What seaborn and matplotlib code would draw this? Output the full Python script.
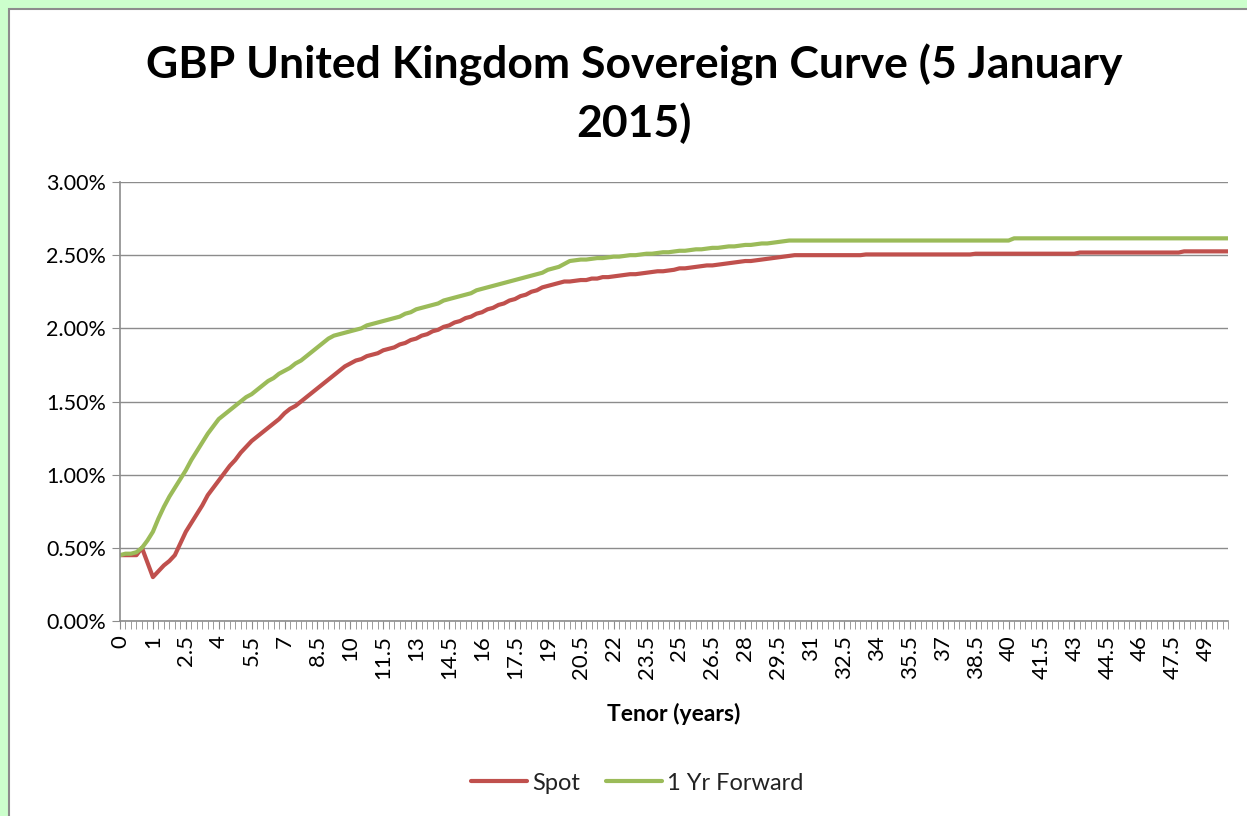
import matplotlib
matplotlib.use("Agg")
import matplotlib.pyplot as plt
import matplotlib.patches as patches
import numpy as np
import pandas as pd
import seaborn as sns

# categories: short end then quarterly steps up to 50 years
tenors = [0, 1/12, 1/6, 0.25, 0.5, 0.75] + list(np.arange(1, 50.001, 0.25))

tick_labels = ["0", "1", "2.5", "4", "5.5", "7", "8.5", "10", "11.5", "13", "14.5",
               "16", "17.5", "19", "20.5", "22", "23.5", "25", "26.5", "28", "29.5",
               "31", "32.5", "34", "35.5", "37", "38.5", "40", "41.5", "43", "44.5",
               "46", "47.5", "49"]

# spot curve (%)
spot = [
    0.45, 0.45, 0.45, 0.45, 0.50, 0.40,
    # 1 - 5.75
    0.30, 0.34, 0.38, 0.41, 0.45, 0.53, 0.61, 0.67, 0.73, 0.79, 0.86, 0.91,
    0.96, 1.01, 1.06, 1.10, 1.15, 1.19, 1.23, 1.26,
    # 6 - 10.75
    1.29, 1.32, 1.35, 1.38, 1.42, 1.45, 1.47, 1.50, 1.53, 1.56, 1.59, 1.62,
    1.65, 1.68, 1.71, 1.74, 1.76, 1.78, 1.79, 1.81,
    # 11 - 15.75
    1.82, 1.83, 1.85, 1.86, 1.87, 1.89, 1.90, 1.92, 1.93, 1.95, 1.96, 1.98,
    1.99, 2.01, 2.02, 2.04, 2.05, 2.07, 2.08, 2.10,
    # 16 - 20.75
    2.11, 2.13, 2.14, 2.16, 2.17, 2.19, 2.20, 2.22, 2.23, 2.25, 2.26, 2.28,
    2.29, 2.30, 2.31, 2.32, 2.32, 2.325, 2.33, 2.33,
    # 21 - 25.75
    2.34, 2.34, 2.35, 2.35, 2.355, 2.36, 2.365, 2.37, 2.37, 2.375, 2.38, 2.385,
    2.39, 2.39, 2.395, 2.40, 2.41, 2.41, 2.415, 2.42,
    # 26 - 30.75
    2.425, 2.43, 2.43, 2.435, 2.44, 2.445, 2.45, 2.455, 2.46, 2.46, 2.465, 2.47,
    2.475, 2.48, 2.485, 2.49, 2.495, 2.50, 2.50, 2.50,
    # 31 - 35.75
    2.50, 2.50, 2.50, 2.50, 2.50, 2.50, 2.50, 2.50, 2.50, 2.50, 2.505, 2.505,
    2.505, 2.505, 2.505, 2.505, 2.505, 2.505, 2.505, 2.505,
    # 36 - 40.75
    2.505, 2.505, 2.505, 2.505, 2.505, 2.505, 2.505, 2.505, 2.505, 2.505, 2.51, 2.51,
    2.51, 2.51, 2.51, 2.51, 2.51, 2.51, 2.51, 2.51,
    # 41 - 45.75
    2.51, 2.51, 2.51, 2.51, 2.51, 2.51, 2.51, 2.51, 2.51, 2.518, 2.518, 2.518,
    2.518, 2.518, 2.518, 2.518, 2.518, 2.518, 2.518, 2.518,
    # 46 - 50
    2.518, 2.518, 2.518, 2.518, 2.518, 2.518, 2.518, 2.518, 2.526, 2.526, 2.526, 2.526,
    2.526, 2.526, 2.526, 2.526, 2.526,
]

# 1 year forward curve (%)
forward = [
    0.45, 0.46, 0.46, 0.47, 0.50, 0.55,
    # 1 - 5.75
    0.61, 0.70, 0.78, 0.85, 0.91, 0.97, 1.03, 1.10, 1.16, 1.22, 1.28, 1.33,
    1.38, 1.41, 1.44, 1.47, 1.50, 1.53, 1.55, 1.58,
    # 6 - 10.75
    1.61, 1.64, 1.66, 1.69, 1.71, 1.73, 1.76, 1.78, 1.81, 1.84, 1.87, 1.90,
    1.93, 1.95, 1.96, 1.97, 1.98, 1.99, 2.00, 2.02,
    # 11 - 15.75
    2.03, 2.04, 2.05, 2.06, 2.07, 2.08, 2.10, 2.11, 2.13, 2.14, 2.15, 2.16,
    2.17, 2.19, 2.20, 2.21, 2.22, 2.23, 2.24, 2.26,
    # 16 - 20.75
    2.27, 2.28, 2.29, 2.30, 2.31, 2.32, 2.33, 2.34, 2.35, 2.36, 2.37, 2.38,
    2.40, 2.41, 2.42, 2.44, 2.46, 2.465, 2.47, 2.47,
    # 21 - 25.75
    2.475, 2.48, 2.48, 2.485, 2.49, 2.49, 2.495, 2.50, 2.50, 2.505, 2.51, 2.51,
    2.515, 2.52, 2.52, 2.525, 2.53, 2.53, 2.535, 2.54,
    # 26 - 30.75
    2.54, 2.545, 2.55, 2.55, 2.555, 2.56, 2.56, 2.565, 2.57, 2.57, 2.575, 2.58,
    2.58, 2.585, 2.59, 2.595, 2.60, 2.60, 2.60, 2.60,
    # 31 - 35.75
    2.60, 2.60, 2.60, 2.60, 2.60, 2.60, 2.60, 2.60, 2.60, 2.60, 2.60, 2.60,
    2.60, 2.60, 2.60, 2.60, 2.60, 2.60, 2.60, 2.60,
    # 36 - 40.75
    2.60, 2.60, 2.60, 2.60, 2.60, 2.60, 2.60, 2.60, 2.60, 2.60, 2.60, 2.60,
    2.60, 2.60, 2.60, 2.60, 2.60, 2.615, 2.615, 2.615,
    # 41 - 45.75
    2.615, 2.615, 2.615, 2.615, 2.615, 2.615, 2.615, 2.615, 2.615, 2.615, 2.615, 2.615,
    2.615, 2.615, 2.615, 2.615, 2.615, 2.615, 2.615, 2.615,
    # 46 - 50
    2.615, 2.615, 2.615, 2.615, 2.615, 2.615, 2.615, 2.615, 2.615, 2.615, 2.615, 2.615,
    2.615, 2.615, 2.615, 2.615, 2.615,
]

series_names = ["Spot", "1 Yr Forward"]
colors = ["#C0504D", "#9BBB59"]

n = len(tenors)
df = pd.DataFrame({
    "idx": list(range(n)) * 2,
    "value": spot + forward,
    "series": [series_names[0]] * n + [series_names[1]] * n,
})

sns.set_style("white")
plt.rcParams["font.family"] = ["Lato", "DejaVu Sans"]

fig = plt.figure(figsize=(12.47, 8.16), dpi=100)
fig.patch.set_facecolor("#ccffcc")
# white chart area with grey border (behind the axes)
fig.patches.append(patches.Rectangle((9 / 1247, -0.05), 1.1, 1 - 9 / 816 + 0.05,
                                     transform=fig.transFigure, facecolor="white",
                                     edgecolor="#8c8c8c", lw=1.5, zorder=-5))

ax = fig.add_axes([120 / 1247, 1 - 621 / 816, (1228 - 120) / 1247, (621 - 182) / 816])
ax.set_zorder(2)
ax.set_facecolor("none")

sns.lineplot(data=df, x="idx", y="value", hue="series", palette=colors,
             linewidth=3, ax=ax, legend=True)

ax.set_xlim(0, n - 1)
ax.set_ylim(0, 3.0)
yt = [0, 0.5, 1.0, 1.5, 2.0, 2.5, 3.0]
ax.set_yticks(yt)
ax.set_yticklabels([f"{v:.2f}%" for v in yt], fontsize=15.5, color="black")
ax.yaxis.grid(True, color="#8c8c8c", lw=1)
ax.set_axisbelow(True)

ax.set_xticks(range(0, n, 6))
ax.set_xticklabels(tick_labels, rotation=90, fontsize=16, color="black")
ax.set_xticks(range(n), minor=True)
ax.tick_params(axis="x", which="both", direction="out", length=6, color="#8c8c8c",
               bottom=True, pad=4)
ax.tick_params(axis="y", direction="out", length=6, color="#8c8c8c", left=True, pad=4)

for s in ["top", "right"]:
    ax.spines[s].set_visible(False)
for s in ["left", "bottom"]:
    ax.spines[s].set_color("#8c8c8c")
    ax.spines[s].set_linewidth(1.2)

ax.set_xlabel("Tenor (years)", fontsize=16.5, fontweight="bold", labelpad=17, color="black")
ax.set_ylabel("")

fig.text(634 / 1247, 1 - 94 / 816, "GBP United Kingdom Sovereign Curve (5 January\n2015)",
         ha="center", va="center", fontsize=32, fontweight="bold", linespacing=1.45,
         color="black")

handles, labels = ax.get_legend_handles_labels()
leg = ax.legend(handles, labels, loc="center", bbox_to_anchor=(637 / 1247, 1 - 783 / 816),
                bbox_transform=fig.transFigure, ncol=2, frameon=False, fontsize=17,
                handlelength=2.4, handletextpad=0.2, columnspacing=1.1)
for t in leg.get_texts():
    t.set_color("#222222")

fig.savefig("out.png", dpi=100, facecolor=fig.get_facecolor())
